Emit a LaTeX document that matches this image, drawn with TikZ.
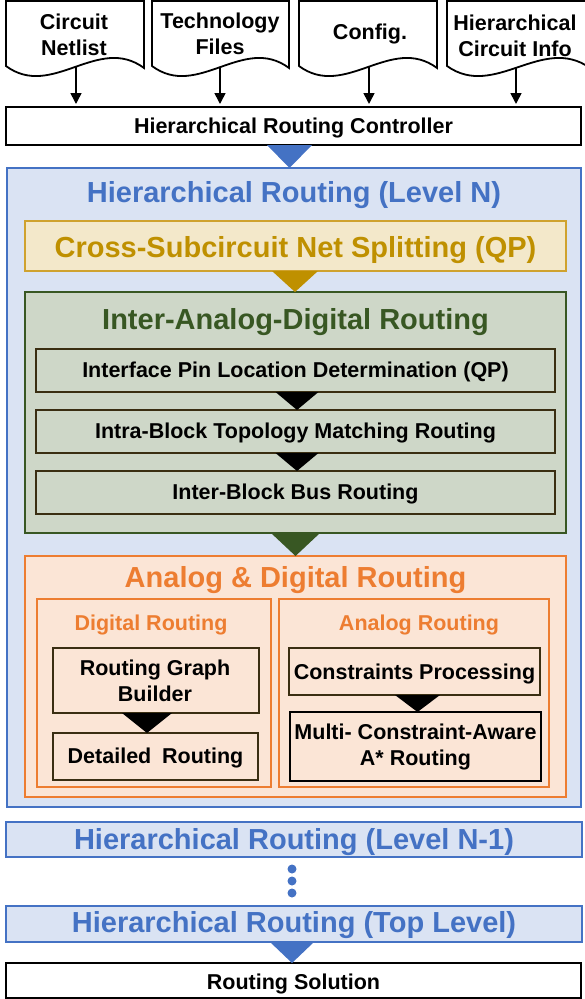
\documentclass[tikz,border=0pt]{standalone}
\usepackage{fontspec}
\setmainfont{Liberation Sans}
\usetikzlibrary{calc,arrows.meta}
\definecolor{cblue}{HTML}{4472C4}
\definecolor{cbluef}{HTML}{DAE3F3}
\definecolor{cgold}{HTML}{BF9000}
\definecolor{cgoldl}{HTML}{CFA22E}
\definecolor{cgoldf}{HTML}{F3E8CA}
\definecolor{cgreen}{HTML}{385723}
\definecolor{cgreenf}{HTML}{CED7C8}
\definecolor{corange}{HTML}{ED7D31}
\definecolor{corangef}{HTML}{FBE5D6}
\definecolor{cbrown}{HTML}{3A2E12}
\newcommand\docshape[2]{%
  \draw[docst] (#1,1) -- (#1,66) .. controls ({#1+(#2-#1)/3},100) and ({#1+2*(#2-#1)/3},34) .. (#2,68) -- (#2,1) -- cycle;}
\newcommand\tri[5]{%
  \path ($(#2.south)+(#4,0)$) coordinate (ta) ($(#2.south)+(#5,0)$) coordinate (tb);
  \path ($(ta)!0.5!(tb)$) coordinate (tm);
  \fill[#1] (ta) -- (tb) -- (tm |- #3.north) -- cycle;}
\begin{document}
\begin{tikzpicture}[x=1pt,y=-1pt,
  every node/.style={inner sep=0pt,outer sep=0pt},
  txtS/.style={font=\fontsize{21.5}{26}\selectfont\bfseries,align=center,yshift=-1.5pt},
  txtL/.style={font=\fontsize{29}{34}\selectfont\bfseries,align=center,yshift=-2.5pt},
  docst/.style={draw=black,fill=white,line width=1.8pt},
  plain/.style={draw=black,fill=white,line width=2pt},
  bluebox/.style={draw=cblue,fill=cbluef,line width=2pt},
  goldbox/.style={draw=cgoldl,fill=cgoldf,line width=2pt},
  greenbox/.style={draw=cgreen,fill=cgreenf,line width=2.5pt},
  inbox/.style={draw=cbrown,fill=cgreenf,line width=2pt},
  orbox/.style={draw=corange,fill=corangef,line width=2pt},
  inobox/.style={draw=cbrown,fill=corangef,line width=2pt},
  arr/.style={line width=1.6pt,-{Triangle[length=11pt,width=11pt]},shorten >=3pt}]
\useasboundingbox (0,0) rectangle (584,999);
% documents
\docshape{6}{144}
\docshape{152}{289}
\docshape{299}{437}
\docshape{447}{590}
\node[txtS] (d1t) at (74,33) {Circuit\\Netlist};
\node[txtS] (d2t) at (220,32) {Technology\\Files};
\node[txtS] (d3t) at (370,32) {Config.};
\node[txtS] (d4t) at (515,34.5) {Hierarchical\\Circuit Info};
\coordinate (d1w) at (76,67);
\coordinate (d2w) at (220,67);
\coordinate (d3w) at (369,67);
\coordinate (d4w) at (516,67);
% controller
\node[plain,minimum width=575,minimum height=38] (ctrl) at (293.5,126) {};
\node[txtS] (ctrlt) at (293.5,126) {Hierarchical Routing Controller};
\foreach \d in {d1w,d2w,d3w,d4w} \draw[arr] (\d) -- (\d |- ctrl.north);
% level N
\node[bluebox,minimum width=574,minimum height=639] (lvN) at (294,487.5) {};
\node[txtL,text=cblue] (lvNt) at (294,193) {Hierarchical Routing (Level N)};
\node[goldbox,minimum width=541,minimum height=50] (cross) at (295.5,246) {};
\node[txtL,text=cgold] (crosst) at (295.5,248) {Cross-Subcircuit Net Splitting (QP)};
\node[greenbox,minimum width=541,minimum height=241] (green) at (295.5,412.5) {};
\node[txtL,text=cgreen] (greent) at (295.5,320) {Inter-Analog-Digital Routing};
\node[inbox,minimum width=519,minimum height=43] (b1) at (295.5,370.5) {};
\node[txtS] (b1t) at (295.5,370) {Interface Pin Location Determination (QP)};
\node[inbox,minimum width=519,minimum height=43] (b2) at (295.5,431.5) {};
\node[txtS] (b2t) at (295.5,431) {Intra-Block Topology Matching Routing};
\node[inbox,minimum width=519,minimum height=43] (b3) at (295.5,492.5) {};
\node[txtS] (b3t) at (295.5,492) {Inter-Block Bus Routing};
\node[orbox,minimum width=541,minimum height=241] (orange) at (295.5,676.5) {};
\node[txtL,text=corange] (oranget) at (295.5,578) {Analog \& Digital Routing};
\node[orbox,minimum width=234,minimum height=188] (dig) at (154,693) {};
\node[txtS,text=corange] (digt) at (151,623) {Digital Routing};
\node[orbox,minimum width=270,minimum height=188] (ana) at (414,693) {};
\node[txtS,text=corange] (anat) at (419,623) {Analog Routing};
\node[inobox,minimum width=206,minimum height=65] (rgb) at (156,680.5) {};
\node[txtS] (rgbt) at (155,679.5) {Routing Graph\\Builder};
\node[inobox,minimum width=205,minimum height=47] (det) at (155.5,756.5) {};
\node[txtS] (dett) at (155.5,756) {Detailed\hspace{0.5em}Routing};
\node[inobox,minimum width=251,minimum height=47] (cp) at (414.5,671.5) {};
\node[txtS] (cpt) at (414.5,672) {Constraints Processing};
\node[orbox,draw=black,minimum width=251,minimum height=69] (mca) at (415.5,746.5) {};
\node[txtS] (mcat) at (415.5,745) {Multi- Constraint-Aware\\A* Routing};
% lower levels
\node[bluebox,minimum width=576,minimum height=35] (lvN1) at (294,839.5) {};
\node[txtL,text=cblue] (lvN1t) at (294,840) {Hierarchical Routing (Level N-1)};
\node[bluebox,minimum width=576,minimum height=36] (topl) at (294,924) {};
\node[txtL,text=cblue] (toplt) at (294,923) {Hierarchical Routing (Top Level)};
\node[plain,minimum width=575,minimum height=35] (sol) at (293.5,980.5) {};
\node[txtS] (solt) at (293.5,982) {Routing Solution};
\foreach \yy in {869,881,893} \fill[cblue] (292,\yy) circle (4.5);
% triangles
\tri{cblue}{ctrl}{lvN}{-26.5}{18.5}
\tri{cgold}{cross}{green}{-23.5}{22.5}
\tri{cgreen}{green}{orange}{-24.5}{24.5}
\tri{black}{b1}{b2}{-20}{23}
\tri{black}{b2}{b3}{-20}{23}
\tri{black}{rgb}{det}{-34}{16}
\tri{black}{cp}{mca}{-19.5}{25.5}
\tri{cblue}{topl}{sol}{-24}{20}
\end{tikzpicture}
\end{document}
